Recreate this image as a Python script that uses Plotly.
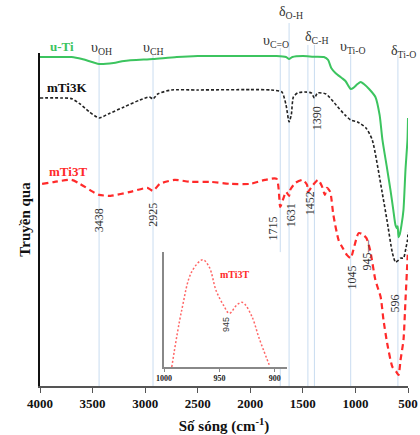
import plotly.graph_objects as go

# ---------------- data (arbitrary transmittance units) -------------
wn_uti = [4000, 3800, 3700, 3600, 3438, 3300, 3200, 2925, 2700, 2500, 2000, 1750, 1660, 1631,
          1600, 1500, 1400, 1300, 1260, 1230, 1190, 1130, 1095, 1060, 1045, 1020, 980, 950,
          920, 870, 810, 770, 743, 700, 667, 640, 619, 605, 598, 590, 578, 562, 543, 524,
          505, 500]
t_uti = [98.8, 98.8, 98.8, 98.2, 96.7, 97.0, 97.6, 98.2, 98.8, 99.1, 99.1, 99.1, 98.8, 98.2,
         98.8, 99.1, 98.9, 98.8, 97.9, 95.5, 94.0, 92.5, 91.6, 89.8, 89.2, 89.5, 90.7, 91.3,
         90.7, 89.2, 86.8, 81.4, 73.9, 65.5, 58.9, 52.9, 48.3, 47.4, 48.0, 44.7, 45.6, 48.3,
         52.9, 64.9, 73.9, 80.5]

wn_k = [4000, 3800, 3700, 3620, 3530, 3438, 3350, 3200, 3050, 2960, 2925, 2880, 2750, 2500,
        2000, 1800, 1700, 1660, 1631, 1610, 1590, 1550, 1480, 1420, 1390, 1360, 1280, 1200,
        1100, 1045, 980, 900, 840, 750, 700, 648, 619, 590, 571, 543, 520, 505, 500]
t_k = [86.5, 86.5, 86.3, 84.7, 82.3, 80.5, 81.7, 83.8, 85.9, 86.8, 86.2, 87.7, 88.9, 88.9,
       89.0, 88.9, 88.3, 84.4, 79.3, 81.4, 86.8, 88.0, 88.3, 88.0, 86.5, 88.0, 87.7, 85.0,
       81.4, 79.9, 79.3, 77.5, 73.9, 58.9, 49.8, 39.9, 37.2, 37.8, 38.4, 38.4, 41.4, 43.8,
       46.2]

wn_t = [3980, 3860, 3700, 3620, 3480, 3438, 3330, 3140, 2980, 2925, 2860, 2720, 2570, 2380,
        2190, 2000, 1860, 1750, 1715, 1690, 1660, 1631, 1620, 1570, 1500, 1460, 1452, 1410,
        1355, 1320, 1290, 1270, 1240, 1210, 1160, 1120, 1080, 1045, 1020, 970, 933, 895,
        860, 810, 760, 733, 695, 648, 610, 590, 571, 543, 524, 505, 500]
t_t = [60.7, 61.3, 61.9, 60.7, 58.0, 57.4, 57.1, 58.3, 59.5, 58.6, 60.7, 61.9, 61.3, 61.3,
       60.7, 60.7, 61.9, 62.2, 53.8, 55.9, 58.3, 57.1, 58.9, 61.0, 61.9, 60.4, 58.3, 60.1,
       61.9, 60.1, 57.4, 59.5, 58.3, 51.4, 43.8, 41.4, 39.3, 38.4, 40.8, 45.9, 45.6, 44.4,
       40.8, 31.8, 26.7, 19.8, 12.3, 5.7, 4.2, 3.3, 7.8, 13.8, 25.8, 37.8, 40.8]

# inset (zoom of mTi3T around 945 cm-1)
wn_inset = [993, 984, 975, 965, 959, 953, 946, 941, 934, 929, 921, 914, 905]
t_inset = [0, 52, 87, 98, 91, 70, 56, 49, 57, 59, 47, 26, 2]

peak_lines = [3438, 2925, 1715, 1631, 1452, 1390, 1045, 596]
x_ticks = [4000, 3500, 3000, 2500, 2000, 1500, 1000, 500]
inset_ticks = [1000, 950, 900]

# ---------------- figure ----------------
SERIF = "Liberation Serif"
GREEN = "#3cc45f"
RED = "#ff2a2a"

fig = go.Figure()
fig.add_trace(go.Scatter(x=wn_uti, y=t_uti, mode="lines", line=dict(color=GREEN, width=2, shape="spline", smoothing=0.6),
                         showlegend=False, hoverinfo="skip"))
fig.add_trace(go.Scatter(x=wn_k, y=t_k, mode="lines", line=dict(color="#222222", width=1.6, dash="3px,2px", shape="spline", smoothing=0.6),
                         showlegend=False, hoverinfo="skip"))
fig.add_trace(go.Scatter(x=wn_t, y=t_t, mode="lines", line=dict(color=RED, width=2.2, dash="6px,4px", shape="spline", smoothing=0.6),
                         showlegend=False, hoverinfo="skip"))
fig.add_trace(go.Scatter(x=wn_inset, y=t_inset, mode="lines", xaxis="x2", yaxis="y2",
                         line=dict(color="#ff6666", width=1.5, dash="2px,2px", shape="spline", smoothing=1.0),
                         showlegend=False, hoverinfo="skip"))

# vertical guide lines (top end in paper coords)
line_tops = {3438: 0.994, 2925: 0.994, 1715: 1.015, 1631: 1.09, 1452: 1.024, 1390: 1.024, 1045: 0.994, 596: 0.994}
for w in peak_lines:
    fig.add_shape(type="line", xref="x", yref="paper", x0=w, x1=w, y0=0, y1=line_tops[w],
                  line=dict(color="#c9dcf0", width=1), layer="below")

anns = []
C = dict(showarrow=False, xanchor="center", yanchor="middle")
# rotated peak numbers
for txt, x, y in [("3438", 3438, 0.498), ("2925", 2925, 0.514), ("1715", 1781, 0.474),
                  ("1631", 1619, 0.514), ("1452", 1438, 0.550), ("1390", 1362, 0.805),
                  ("1045", 1029, 0.327), ("945—", 886, 0.393), ("596", 619, 0.249)]:
    anns.append(dict(text=txt, x=x, y=y, xref="x", yref="paper", textangle=-90,
                     font=dict(family=SERIF, size=12, color="#333333"), **C))
# band assignments
for txt, x, y in [("υ<sub>OH</sub>", 3419, 1.015), ("υ<sub>CH</sub>", 2924, 1.015),
                  ("υ<sub>C=O</sub>", 1752, 1.036), ("δ<sub>O-H</sub>", 1610, 1.123),
                  ("δ<sub>C-H</sub>", 1371, 1.048), ("υ<sub>Ti-O</sub>", 1019, 1.018),
                  ("δ<sub>Ti-O</sub>", 543, 1.006)]:
    anns.append(dict(text=txt, x=x, y=y, xref="x", yref="paper",
                     font=dict(family=SERIF, size=14, color="#333333"), **C))
# series labels
for txt, x, y, c in [("<b>u-Ti</b>", 3790, 1.021, GREEN), ("<b>mTi3K</b>", 3743, 0.895, "#111111"),
                     ("<b>mTi3T</b>", 3733, 0.643, RED)]:
    anns.append(dict(text=txt, x=x, y=y, xref="x", yref="paper",
                     font=dict(family=SERIF, size=13, color=c), **C))
# inset labels
anns.append(dict(text="<b>mTi3T</b>", x=936, y=0.336, xref="x2", yref="paper",
                 font=dict(family=SERIF, size=10, color=RED), **C))
anns.append(dict(text="945", x=944, y=0.183, xref="x2", yref="paper", textangle=-90,
                 font=dict(family="Liberation Sans", size=9, color="#333333"), **C))

fig.update_layout(
    width=420, height=435,
    margin=dict(l=40, r=12, t=53, b=49),
    paper_bgcolor="white", plot_bgcolor="white",
    annotations=anns,
    xaxis=dict(range=[4000, 500], tickvals=x_ticks, ticks="outside", ticklen=5, tickcolor="#555555",
               showline=True, linecolor="#555555", linewidth=1.5, showgrid=False, zeroline=False,
               automargin=False,
               tickfont=dict(family=SERIF, size=13, color="#111111", weight="bold"),
               title=dict(text="<b>Số sóng (cm<sup>-1</sup>)</b>", font=dict(family=SERIF, size=15, color="#111111"), standoff=12)),
    yaxis=dict(range=[0, 100], showticklabels=False, ticks="", showline=True, linecolor="#111111", linewidth=2,
               showgrid=False, zeroline=False, automargin=False,
               title=dict(text="<b>Truyền qua</b>", font=dict(family=SERIF, size=15, color="#111111"), standoff=4)),
    xaxis2=dict(domain=[0.337, 0.671], anchor="y2", range=[1000, 889], tickvals=inset_ticks, automargin=False,
                ticks="outside", ticklen=3, tickcolor="#888888", showline=True, linecolor="#888888", linewidth=1.5,
                showgrid=False, zeroline=False, tickfont=dict(family=SERIF, size=8, color="#222222", weight="bold")),
    yaxis2=dict(domain=[0.057, 0.402], anchor="x2", range=[0, 105], showticklabels=False, ticks="", automargin=False,
                showline=True, linecolor="#888888", linewidth=1.5, showgrid=False, zeroline=False),
)

fig.write_html("out.html")
